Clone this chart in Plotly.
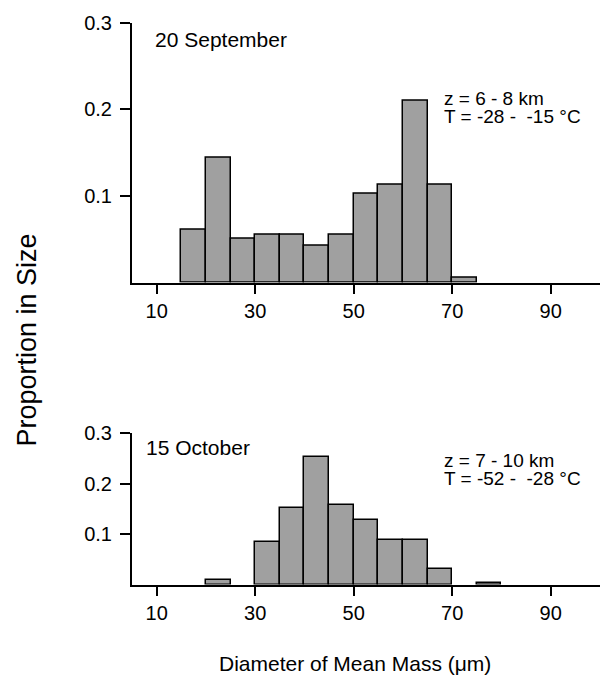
import plotly.graph_objects as go

# ---- data ----
bin_width = 5
sep_bins = [15, 20, 25, 30, 35, 40, 45, 50, 55, 60, 65, 70]
sep_prop = [0.061, 0.144, 0.050, 0.055, 0.055, 0.042, 0.055, 0.102, 0.113, 0.210, 0.113, 0.006]
oct_bins = [20, 30, 35, 40, 45, 50, 55, 60, 65, 75]
oct_prop = [0.008, 0.085, 0.152, 0.253, 0.157, 0.128, 0.088, 0.088, 0.030, 0.004]
x_ticks = [10, 30, 50, 70, 90]
y_ticks = [0.1, 0.2, 0.3]

W, H = 601, 682
FONT = "Liberation Sans, Arial, Helvetica, sans-serif"

def px(x):
    return x / W

def py(y):
    return 1 - y / H

fig = go.Figure()
bar_style = dict(
    marker=dict(color="#a0a0a0", line=dict(color="black", width=1.5)),
    width=bin_width, offset=0, showlegend=False, hoverinfo="skip",
)
fig.add_trace(go.Bar(x=sep_bins, y=sep_prop, xaxis="x", yaxis="y", **bar_style))
fig.add_trace(go.Bar(x=oct_bins, y=oct_prop, xaxis="x2", yaxis="y2", **bar_style))

xa = dict(range=[5, 100], tickvals=x_ticks, ticks="outside", ticklen=9, tickwidth=2,
          tickcolor="black", showline=True, linecolor="black", linewidth=2,
          showgrid=False, zeroline=False, tickfont=dict(family=FONT, size=20, color="black"),
          domain=[px(132), px(600)])
ya = dict(range=[0, 0.3], tickvals=y_ticks, ticktext=["0.1", "0.2", "0.3"], ticks="outside",
          ticklen=10, tickwidth=2, tickcolor="black", showline=True, linecolor="black",
          linewidth=2, showgrid=False, zeroline=False, ticklabelstandoff=4,
          tickfont=dict(family=FONT, size=20, color="black"))

fig.update_layout(
    width=W, height=H,
    margin=dict(l=0, r=0, t=0, b=0),
    paper_bgcolor="white", plot_bgcolor="white",
    bargap=0,
    xaxis=dict(xa, anchor="y"),
    yaxis=dict(ya, anchor="x", domain=[py(276), py(12)]),
    xaxis2=dict(xa, anchor="y2"),
    yaxis2=dict(ya, anchor="x2", domain=[py(583), py(429)]),
    font=dict(family=FONT, color="black"),
)

def note(text, x, y, size=20, **kw):
    fig.add_annotation(text=text, x=px(x), y=py(y), xref="paper", yref="paper",
                       xanchor="left", yanchor="middle", showarrow=False,
                       font=dict(family=FONT, size=size, color="black"), **kw)

note("20 September", 153, 29, size=21)
note("z = 6 - 8 km", 442, 89, size=19)
note("T = -28 -\u00a0 -15 °C", 442, 107, size=19)
note("15 October", 144, 444, size=21)
note("z = 7 - 10 km", 442, 457, size=19)
note("T = -52 -\u00a0 -28 °C", 442, 475, size=19)

fig.add_annotation(text="Proportion in Size", x=px(27), y=py(335), xref="paper", yref="paper",
                   textangle=-90, showarrow=False, xanchor="center", yanchor="middle",
                   font=dict(family=FONT, size=27, color="black"))
fig.add_annotation(text="Diameter of Mean Mass (\u03bcm)", x=px(355), y=py(663), xref="paper",
                   yref="paper", showarrow=False, xanchor="center", yanchor="middle",
                   font=dict(family=FONT, size=21, color="black"))

fig.write_html("out.html", config={"displayModeBar": False},
               post_script="document.body.style.margin='0';document.body.style.overflow='hidden';")
